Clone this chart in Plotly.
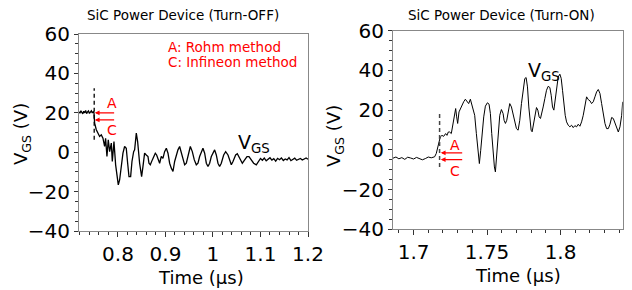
import plotly.graph_objects as go

# ---------------- data ----------------
# Turn-OFF trace (time in µs, VGS in V)
off_t = [0.718, 0.720, 0.722, 0.724, 0.726, 0.728, 0.730, 0.732, 0.734, 0.736, 0.738, 0.740,
         0.742, 0.744, 0.746, 0.748, 0.7495,
         0.7509, 0.7544, 0.7579, 0.7614, 0.7649, 0.7684, 0.7719, 0.774, 0.7768, 0.7796, 0.7825,
         0.786, 0.7881, 0.7916, 0.7951, 0.7979, 0.8007, 0.8035, 0.807, 0.8105, 0.814, 0.8175,
         0.8204, 0.8232, 0.8267, 0.8295, 0.833, 0.8351, 0.8386, 0.8414, 0.8456, 0.8498, 0.8526,
         0.8561, 0.8596, 0.8632, 0.8653, 0.8681, 0.8723, 0.8758, 0.8786, 0.8814, 0.8842, 0.8877,
         0.8912, 0.8947, 0.8982, 0.9018, 0.9053, 0.9088, 0.9123, 0.9158, 0.9193, 0.9228, 0.9263,
         0.9298, 0.9333, 0.9368, 0.9404, 0.9439, 0.9474, 0.9523, 0.9565, 0.9607, 0.9649, 0.9684,
         0.9719, 0.9754, 0.9789, 0.9825, 0.986, 0.9895, 0.993, 0.9965, 1.0, 1.0035, 1.007, 1.0105,
         1.014, 1.0175, 1.0225, 1.0267, 1.0316, 1.0351, 1.0386, 1.0421, 1.0477, 1.0512, 1.0561,
         1.0618, 1.0667, 1.0716, 1.0758, 1.0807, 1.0856, 1.0912, 1.0968,
         1.100, 1.104, 1.108, 1.112, 1.116, 1.120, 1.124, 1.128, 1.132, 1.136, 1.140, 1.144,
         1.148, 1.152, 1.156, 1.160, 1.164, 1.168, 1.172, 1.176, 1.180, 1.184, 1.188, 1.192,
         1.196, 1.200]
off_v = [20.5, 19.8, 21.0, 20.2, 19.5, 20.8, 20.0, 21.2, 19.6, 20.4, 20.9, 19.7,
         20.3, 21.0, 19.9, 20.6, 20.0,
         14.7, 11.4, 9.7, 8.0, 8.8, 7.1, 2.9, 7.1, -2.2, 6.3, 0.3,
         4.6, -4.7, 5.4, -6.4, -10.7, -16.6, -14.1, -5.6, -0.5, 2.9, 2.0,
         -5.6, -12.4, -12.4, -4.7, 0.3, 1.2, 9.7, 5.4, -5.6, -12.4, -7.3,
         -0.5, -1.4, -2.2, -5.6, -6.4, -3.9, -2.2, -0.5, -1.4, -3.9, -5.6,
         -2.2, -3.1, 0.3, 2.0, -0.5, -5.6, -8.1, -9.8, -4.7, -1.4, 1.2,
         2.9, -0.5, -3.9, -6.4, -5.6, -2.2, 2.9, 0.3, -3.9, -6.4, -5.6,
         -2.2, 0.3, 2.0, -0.5, -5.6, -7.3, -5.6, -2.2, -0.2, 1.2, -1.4, -5.6,
         -7.3, -5.6, -1.4, 0.3, -1.4, -3.9, -6.4, -4.7, -1.4, -0.8, -3.1,
         -5.6, -3.9, -2.2, -2.2, -3.9, -5.6, -6.4, -3.9,
         -3.2, -4.1, -3.0, -4.4, -3.6, -2.8, -4.0, -3.3, -4.5, -3.1, -3.8, -2.9,
         -4.2, -3.4, -3.9, -2.7, -4.3, -3.5, -3.0, -4.1, -3.6, -3.2, -4.0, -3.4,
         -2.9, -3.6]

# Turn-ON trace
on_t = [1.686, 1.688, 1.690, 1.692, 1.694, 1.696, 1.698, 1.700, 1.702, 1.704, 1.706, 1.708,
        1.710, 1.712, 1.71432,
        1.71545, 1.71659, 1.71727, 1.71818, 1.71932, 1.72045, 1.72182, 1.72273, 1.72364, 1.72455,
        1.72568, 1.72682, 1.72773, 1.72864, 1.72932, 1.73, 1.73091, 1.73182, 1.73295, 1.73409,
        1.73523, 1.73636, 1.7375, 1.73864, 1.73932, 1.74045, 1.74159, 1.74273, 1.74386, 1.74477,
        1.74568, 1.74659, 1.74773, 1.74886, 1.75023, 1.75136, 1.75227, 1.75318, 1.75409, 1.755,
        1.75568, 1.75659, 1.7575, 1.75864, 1.75977, 1.76091, 1.76159, 1.7625, 1.76341, 1.76432,
        1.76545, 1.76659, 1.76773, 1.76886, 1.77, 1.77114, 1.77227, 1.77341, 1.77455, 1.77568,
        1.77659, 1.7775, 1.77841, 1.77909, 1.78, 1.78068, 1.78159, 1.78273, 1.78364, 1.78455,
        1.78545, 1.78636, 1.78727, 1.78818, 1.78932, 1.79045, 1.79159, 1.79273, 1.79364, 1.79455,
        1.79545, 1.79636, 1.79727, 1.79841, 1.79955, 1.80045, 1.80136, 1.80227, 1.80318, 1.80409,
        1.80523, 1.80636, 1.8075, 1.80864, 1.80977, 1.81091, 1.81205, 1.81318, 1.81432, 1.81545,
        1.81659, 1.81773, 1.81886, 1.82, 1.82114, 1.82227, 1.82341, 1.82455, 1.82568, 1.82682,
        1.82795, 1.82909, 1.83023, 1.83136, 1.8325, 1.83364, 1.83477, 1.83591, 1.83705, 1.83818,
        1.83932, 1.84045, 1.84159, 1.84227]
on_v = [-4.2, -3.6, -4.5, -3.9, -4.8, -3.7, -4.1, -4.6, -3.8, -4.3, -5.0, -4.4,
        -3.6, -4.0, -3.5,
        -1.8, 1.5, 4.0, 6.5, 7.3, 6.8, 8.2, 7.3, 9.0, 9.0,
        8.2, 13.3, 17.4, 20.8, 16.6, 13.3, 19.1, 20.8, 22.5, 24.2,
        25.5, 24.2, 23.3, 25.5, 23.3, 20.8, 17.4, 8.2, -0.2, -6.9,
        -0.2, 8.2, 16.6, 22.0, 23.7, 23.0, 18.3, 8.2, -1.8, -8.6,
        -11.1, -3.5, 8.2, 17.4, 20.3, 18.3, 14.9, 13.3, 14.9, 19.1,
        23.3, 21.6, 18.3, 14.1, 10.7, 9.9, 14.9, 23.3, 30.9, 35.9,
        36.4, 31.7, 21.6, 14.9, 9.9, 9.1, 13.3, 18.3, 21.3, 20.0,
        16.6, 15.8, 18.3, 21.6, 25.8, 30.0, 32.0, 31.4, 27.5, 21.6,
        20.0, 25.0, 31.7, 36.7, 38.1, 36.0, 30.0, 23.3, 17.4, 14.1,
        12.4, 11.6, 12.4, 11.2, 12.2, 11.6, 12.9, 11.9, 14.1, 17.4,
        21.6, 26.7, 25.3, 24.7, 23.3, 24.2, 26.7, 29.2, 30.4, 28.4,
        23.3, 18.3, 13.3, 10.7, 10.7, 12.9, 16.3, 15.8, 13.3, 10.7,
        9.0, 11.6, 17.4, 24.2]

# ---------------- figure ----------------
# The page body has an 8px margin, so the figure is sized to fit the 632x290 window.
W, H, OFF = 624, 282, 8


def px(X):
    return (X - OFF) / W


def py(Y):
    return 1 - (Y - OFF) / H


fig = go.Figure()
fig.add_trace(go.Scatter(x=off_t, y=off_v, mode="lines",
                         line=dict(color="black", width=1.3), xaxis="x", yaxis="y",
                         showlegend=False))
fig.add_trace(go.Scatter(x=on_t, y=on_v, mode="lines",
                         line=dict(color="black", width=1.0), xaxis="x2", yaxis="y2",
                         showlegend=False))

FONT = "DejaVu Sans"
tickfont = dict(family=FONT, size=20, color="black")
titlefont = dict(family=FONT, size=18, color="black")

common_y = dict(range=[-40, 60], dtick=20, ticks="outside", ticklen=4, tickcolor="#333",
                showline=True, linecolor="#888", mirror=True, showgrid=False, zeroline=False,
                automargin=False, tickfont=tickfont,
                minor=dict(dtick=5, ticks="outside", ticklen=3, tickcolor="#333"))

common_x = dict(ticks="outside", ticklen=5, tickcolor="#333", showline=True, linecolor="#888",
                mirror=True, showgrid=False, zeroline=False, automargin=False, tickfont=tickfont)

fig.update_layout(
    width=W, height=H, margin=dict(l=0, r=0, t=0, b=0, autoexpand=False),
    paper_bgcolor="white", plot_bgcolor="white",
    xaxis=dict(domain=[px(79), px(308)], range=[0.718, 1.2], tickvals=[0.8, 0.9, 1.0, 1.1, 1.2],
               ticktext=["0.8", "0.9", "1", "1.1", "1.2"],
               minor=dict(dtick=0.02, tick0=0.8, ticks="outside", ticklen=3, tickcolor="#333"),
               anchor="y", **common_x),
    yaxis=dict(domain=[py(231), py(34)], anchor="x", **common_y),
    xaxis2=dict(domain=[px(393), px(622.7)], range=[1.686, 1.8423], tickvals=[1.7, 1.75, 1.8],
                ticktext=["1.7", "1.75", "1.8"],
                minor=dict(dtick=0.01, tick0=1.7, ticks="outside", ticklen=3, tickcolor="#333"),
                anchor="y2", **common_x),
    yaxis2=dict(domain=[py(229.3), py(30.7)], anchor="x2", **common_y),
)

# axis titles
for X, Y in [(22, 134), (335, 136)]:
    fig.add_annotation(xref="paper", yref="paper", x=px(X), y=py(Y), text="V<sub>GS</sub> (V)",
                       textangle=-90, showarrow=False, xanchor="center", yanchor="middle",
                       font=titlefont)
for X, Y in [(201, 277), (518, 275)]:
    fig.add_annotation(xref="paper", yref="paper", x=px(X), y=py(Y), text="Time (µs)",
                       showarrow=False, xanchor="center", yanchor="middle", font=titlefont)

# dashed markers
fig.add_shape(type="line", xref="x", yref="y", x0=0.75, x1=0.75, y0=6.3, y1=32.5,
              line=dict(color="black", width=1.3, dash="4px,3px"))
fig.add_shape(type="line", xref="x2", yref="y2", x0=1.7177, x1=1.7177, y0=-8.6, y1=18.3,
              line=dict(color="#444", width=1.5, dash="4px,3px"))

red = "#ff0000"
# arrows
for yv in [20.0, 16.4]:
    fig.add_annotation(xref="x", yref="y", x=0.7512, y=yv, ax=0.7951, ay=yv,
                       axref="x", ayref="y", showarrow=True, arrowhead=2, arrowsize=0.8,
                       arrowwidth=1.2, arrowcolor=red, text="")
for yv in [-1.5, -4.9]:
    fig.add_annotation(xref="x2", yref="y2", x=1.7185, y=yv, ax=1.7341, ay=yv,
                       axref="x2", ayref="y2", showarrow=True, arrowhead=2, arrowsize=0.8,
                       arrowwidth=1.2, arrowcolor=red, text="")

lab = dict(family=FONT, size=14, color=red)
fig.add_annotation(xref="x", yref="y", x=0.787, y=25.0, text="A", showarrow=False, font=lab)
fig.add_annotation(xref="x", yref="y", x=0.787, y=11.5, text="C", showarrow=False, font=lab)
fig.add_annotation(xref="x2", yref="y2", x=1.7285, y=2.5, text="A", showarrow=False, font=lab)
fig.add_annotation(xref="x2", yref="y2", x=1.7283, y=-10.5, text="C", showarrow=False, font=lab)

leg = dict(family=FONT, size=13.5, color=red)
fig.add_annotation(xref="x", yref="y", x=0.902, y=53.2, text="A: Rohm method",
                   showarrow=False, xanchor="left", font=leg)
fig.add_annotation(xref="x", yref="y", x=0.902, y=45.8, text="C: Infineon method",
                   showarrow=False, xanchor="left", font=leg)

vfont = dict(family=FONT, size=19, color="black")
fig.add_annotation(xref="x", yref="y", x=1.086, y=4.5, text="V<sub>GS</sub>",
                   showarrow=False, font=vfont)
fig.add_annotation(xref="x2", yref="y2", x=1.7885, y=39.5, text="V<sub>GS</sub>",
                   showarrow=False, font=vfont)

tfont = dict(family=FONT, size=13.5, color="black")
fig.add_annotation(xref="paper", yref="paper", x=px(182.7), y=py(14.5), xanchor="center",
                   yanchor="middle", text="SiC Power Device (Turn-OFF)", showarrow=False,
                   font=tfont, borderpad=0)
fig.add_annotation(xref="paper", yref="paper", x=px(501), y=py(14.5), xanchor="center",
                   yanchor="middle", text="SiC Power Device (Turn-ON)", showarrow=False,
                   font=tfont, borderpad=0)

fig.write_html("out.html")
